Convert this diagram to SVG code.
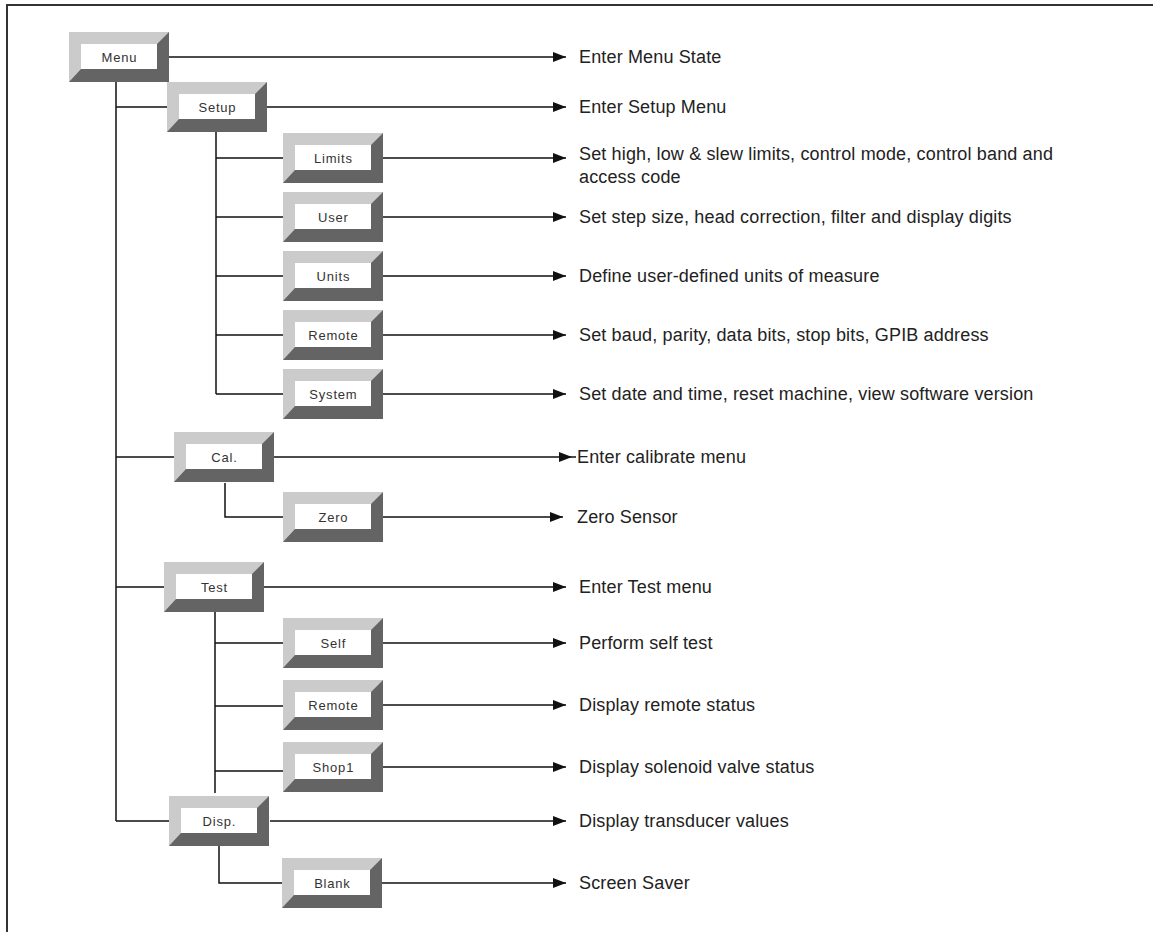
<svg xmlns="http://www.w3.org/2000/svg" width="1153" height="932" viewBox="0 0 1153 932">
<style>
.dark{fill:#636463}
.light{fill:#cbcbcb}
.inner{fill:#ffffff}
.lbl{font-family:"Liberation Sans",Arial,sans-serif;font-size:13px;fill:#333;text-anchor:middle;letter-spacing:0.8px}
.txt{font-family:"Liberation Sans",Arial,sans-serif;font-size:18px;fill:#222;letter-spacing:0.15px}
.ln{stroke:#111;stroke-width:1.5;fill:none}
.ar{stroke:#111;stroke-width:1.5;fill:none;marker-end:url(#ah)}
</style>
<defs>
<marker id="ah" viewBox="0 0 13 10" refX="13" refY="5" markerWidth="13" markerHeight="10" markerUnits="userSpaceOnUse" orient="auto">
<path d="M0,0 L13,5 L0,10 z" fill="#111"/>
</marker>
<g id="btn">
<rect class="dark" x="0" y="0" width="100" height="50"/>
<polygon class="light" points="0,0 100,0 88,12 12,12 12,37 0,50"/>
<rect class="inner" x="12" y="12" width="76" height="25"/>
</g>
</defs>
<rect x="0" y="0" width="1153" height="932" fill="#fff"/>
<path d="M7,932 V5 H1153" stroke="#333" stroke-width="2" fill="none"/>

<g id="connectors">
<path class="ln" d="M116,82 V821 M116,107 H167 M116,457 H174 M116,587 H164 M116,821 H169"/>
<path class="ln" d="M216,132 V394 M216,158 H283 M216,217 H283 M216,276 H283 M216,335 H283 M216,394 H283"/>
<path class="ln" d="M225,483 V517 H283"/>
<path class="ln" d="M215,612 V793 M215,643 H283 M215,706 H283 M215,771 H283"/>
<path class="ln" d="M219,846 V883 H282"/>
<path class="ar" d="M169,57 H566"/>
<path class="ar" d="M267,107 H566"/>
<path class="ar" d="M383,158 H566"/>
<path class="ar" d="M383,217 H566"/>
<path class="ar" d="M383,276 H566"/>
<path class="ar" d="M383,335 H566"/>
<path class="ar" d="M383,394 H566"/>
<path class="ar" d="M274,457 H572"/>
<path class="ln" d="M572,457 H576"/>
<path class="ar" d="M383,517 H563"/>
<path class="ar" d="M264,587 H566"/>
<path class="ar" d="M383,643 H566"/>
<path class="ar" d="M383,705 H566"/>
<path class="ar" d="M383,767 H566"/>
<path class="ar" d="M270,821 H566"/>
<path class="ar" d="M382,883 H566"/>
</g>

<g id="menu"><use href="#btn" x="69" y="32"/><text class="lbl" x="119.4" y="62">Menu</text><text class="txt" x="579" y="63">Enter Menu State</text></g>
<g id="setup"><use href="#btn" x="167" y="82"/><text class="lbl" x="217.4" y="112">Setup</text><text class="txt" x="579" y="113">Enter Setup Menu</text></g>
<g id="limits"><use href="#btn" x="283" y="133"/><text class="lbl" x="333.4" y="163">Limits</text><text class="txt" x="579" y="160">Set high, low &amp; slew limits, control mode, control band and</text><text class="txt" x="579" y="183">access code</text></g>
<g id="user"><use href="#btn" x="283" y="192"/><text class="lbl" x="333.4" y="222">User</text><text class="txt" x="579" y="223">Set step size, head correction, filter and display digits</text></g>
<g id="units"><use href="#btn" x="283" y="251"/><text class="lbl" x="333.4" y="281">Units</text><text class="txt" x="579" y="282">Define user-defined units of measure</text></g>
<g id="remote1"><use href="#btn" x="283" y="310"/><text class="lbl" x="333.4" y="340">Remote</text><text class="txt" x="579" y="341">Set baud, parity, data bits, stop bits, GPIB address</text></g>
<g id="system"><use href="#btn" x="283" y="369"/><text class="lbl" x="333.4" y="399">System</text><text class="txt" x="579" y="400">Set date and time, reset machine, view software version</text></g>
<g id="cal"><use href="#btn" x="174" y="432"/><text class="lbl" x="224.4" y="462">Cal.</text><text class="txt" x="577" y="463">Enter calibrate menu</text></g>
<g id="zero"><use href="#btn" x="283" y="492"/><text class="lbl" x="333.4" y="522">Zero</text><text class="txt" x="577" y="523">Zero Sensor</text></g>
<g id="test"><use href="#btn" x="164" y="562"/><text class="lbl" x="214.4" y="592">Test</text><text class="txt" x="579" y="593">Enter Test menu</text></g>
<g id="self"><use href="#btn" x="283" y="618"/><text class="lbl" x="333.4" y="648">Self</text><text class="txt" x="579" y="649">Perform self test</text></g>
<g id="remote2"><use href="#btn" x="283" y="680"/><text class="lbl" x="333.4" y="710">Remote</text><text class="txt" x="579" y="711">Display remote status</text></g>
<g id="shop1"><use href="#btn" x="283" y="742"/><text class="lbl" x="333.4" y="772">Shop1</text><text class="txt" x="579" y="773">Display solenoid valve status</text></g>
<g id="disp"><use href="#btn" x="169" y="796"/><text class="lbl" x="219.4" y="826">Disp.</text><text class="txt" x="579" y="827">Display transducer values</text></g>
<g id="blank"><use href="#btn" x="282" y="858"/><text class="lbl" x="332.4" y="888">Blank</text><text class="txt" x="579" y="889">Screen Saver</text></g>
</svg>
